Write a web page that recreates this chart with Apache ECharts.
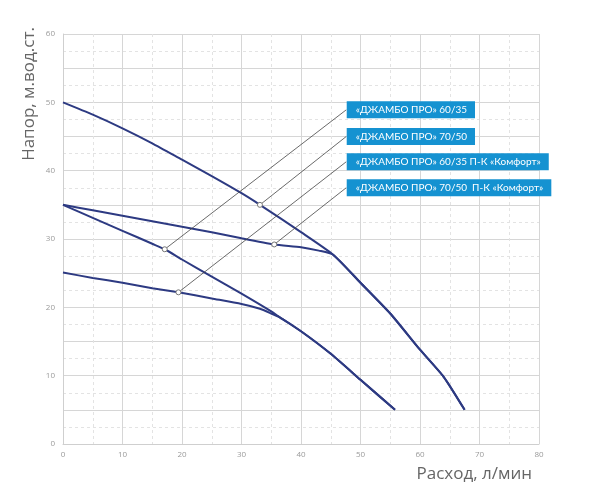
<!DOCTYPE html>
<html>
<head>
<meta charset="utf-8">
<script src="https://cdn.jsdelivr.net/npm/echarts@6/dist/echarts.min.js"></script>
<style>html,body{margin:0;padding:0;background:#fff;}#c{width:589px;height:492px;}</style>
</head>
<body>
<div id="c"></div>
<script>
// Curves: [flow л/мин, head м]
const s6035 = [[0,35],[5,33.1],[10,31.2],[15,29.3],[17.1,28.5],[20,27.0],[25,24.5],[30,22.0],[35,19.4],[36.5,18.5],[40,16.5],[45,13.2],[50,9.4],[55.8,5]];
const s7050 = [[0,50],[5,48.2],[10,46.2],[15,44.0],[20,41.6],[25,39.2],[30,36.7],[33.1,35.0],[40,31.0],[45.4,27.7],[50,23.6],[55,19.1],[60,13.8],[64,9.8],[67.5,5]];
const s6035pk = [[0,25.1],[5,24.3],[10,23.6],[15,22.8],[19.4,22.2],[25,21.3],[30,20.5],[33.1,19.8],[35,19.1],[36.5,18.5],[40,16.5],[45,13.2],[50,9.4],[55.8,5]];
const s7050pk = [[0,35],[5,34.2],[10,33.4],[15,32.6],[20,31.8],[25,31.0],[30,30.1],[35.5,29.2],[40,28.8],[43,28.3],[45.4,27.7],[50,23.6],[55,19.1],[60,13.8],[64,9.8],[67.5,5]];

// Callouts: label text and the curve point each one points to
const calloutNames = ['«ДЖАМБО ПРО» 60/35', '«ДЖАМБО ПРО» 70/50', '«ДЖАМБО ПРО» 60/35 П-К «Комфорт»', '«ДЖАМБО ПРО» 70/50  П-К «Комфорт»'];
const calloutPoints = [[17.1,28.5],[33.1,35.0],[19.4,22.2],[35.5,29.2]];
const calloutAnchorX = 47.6;
const calloutAnchorY = [48.9, 45.0, 41.3, 37.5];

const xTicks = [0,10,20,30,40,50,60,70,80];
const yTicks = [0,10,20,30,40,50,60];

const curveColor = '#2d3a82';
const curves = [s6035, s7050, s6035pk, s7050pk].map(d => ({
  type: 'line', data: d, smooth: 0.2, showSymbol: false, symbol: 'none',
  lineStyle: {color: curveColor, width: 2}, z: 3, silent: true
}));

const callouts = calloutNames.map((name, i) => ({
  type: 'line', silent: true, z: 5,
  data: [
    {value: calloutPoints[i], symbol: 'circle', symbolSize: 5},
    {value: [calloutAnchorX, calloutAnchorY[i]], symbol: 'circle', symbolSize: 1,
     itemStyle: {color: 'rgba(0,0,0,0)', borderWidth: 0},
     label: {show: true, position: 'right', distance: 0, formatter: name,
       backgroundColor: '#1592d1', color: '#fff', padding: [4, 8, 3, 9],
       fontSize: 10, fontFamily: 'Lato, "Noto Sans", sans-serif', lineHeight: 10}}
  ],
  showSymbol: true,
  itemStyle: {color: '#fff', borderColor: '#777', borderWidth: 1},
  lineStyle: {color: '#444', width: 0.8}
}));

const chart = echarts.init(document.getElementById('c'), null, {renderer: 'canvas'});
chart.setOption({
  animation: false,
  backgroundColor: '#fff',
  grid: {left: 63, right: 50, top: 34, bottom: 48},
  xAxis: {
    type: 'value', min: xTicks[0], max: xTicks[xTicks.length-1], interval: 10,
    axisLine: {show: true, lineStyle: {color: '#cfcfcf'}},
    axisTick: {show: false},
    axisLabel: {color: '#9a9a9a', fontSize: 8, margin: 7, fontFamily: 'Open Sans, sans-serif'},
    splitLine: {show: true, lineStyle: {color: '#d6d6d6', width: 1}},
    minorTick: {show: false, splitNumber: 2},
    minorSplitLine: {show: true, lineStyle: {color: '#e3e3e3', type: [3, 3], width: 1}}
  },
  yAxis: {
    type: 'value', min: yTicks[0], max: yTicks[yTicks.length-1], interval: 5,
    axisLine: {show: true, lineStyle: {color: '#cfcfcf'}},
    axisTick: {show: false},
    axisLabel: {color: '#9a9a9a', fontSize: 8, margin: 8, fontFamily: 'Open Sans, sans-serif',
      formatter: v => (yTicks.indexOf(v) >= 0 ? String(v) : '')},
    splitLine: {show: true, lineStyle: {color: '#d6d6d6', width: 1}},
    minorTick: {show: false, splitNumber: 2},
    minorSplitLine: {show: true, lineStyle: {color: '#e3e3e3', type: [3, 3], width: 1}}
  },
  graphic: [
    {type: 'text', x: 29, y: 94, rotation: Math.PI/2,
     style: {text: 'Напор, м.вод.ст.', fill: '#666', fontSize: 17, fontFamily: '"Open Sans", sans-serif', align: 'center', verticalAlign: 'middle'}},
    {type: 'text', x: 532, y: 474,
     style: {text: 'Расход, л/мин', fill: '#666', fontSize: 17, fontFamily: '"Open Sans", sans-serif', align: 'right', verticalAlign: 'middle'}}
  ],
  series: curves.concat(callouts)
});
</script>
</body>
</html>
